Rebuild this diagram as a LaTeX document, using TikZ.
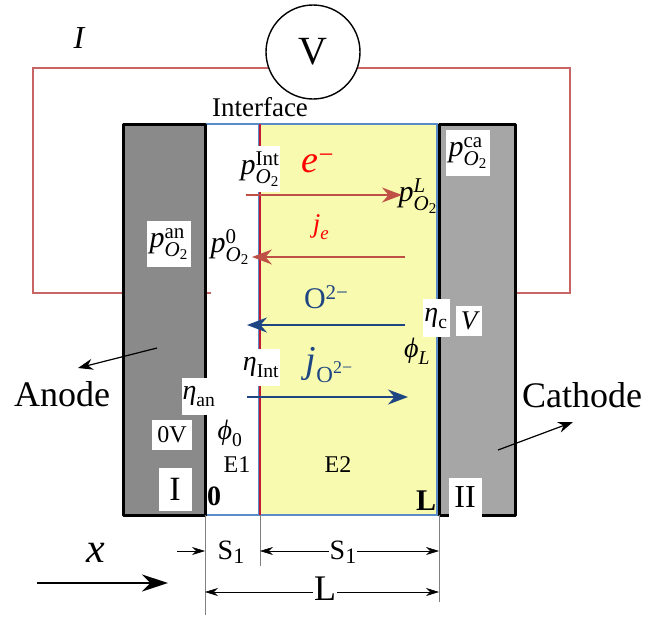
\documentclass[tikz,border=0pt]{standalone}
\usepackage{amsmath}
\usepackage{fontspec}
\setmainfont{Liberation Serif}
\usetikzlibrary{arrows.meta,positioning,calc}
\definecolor{wirered}{RGB}{200,100,100}
\definecolor{flowred}{RGB}{190,80,70}
\definecolor{flowblue}{RGB}{30,70,130}
\definecolor{edgeblue}{RGB}{90,140,200}
\definecolor{elecyellow}{RGB}{248,250,175}
\newcommand{\pres}[1]{$\textit{p}^{#1}_{\textit{O}_{\text{2}}}$}
\newcommand{\sz}[1]{\fontsize{#1}{#1}\selectfont}
\begin{document}
\begin{tikzpicture}[
    x=1pt, y=-1pt,
    >=Stealth,
    wire/.style={draw=wirered, line width=1.8pt},
    flowr/.style={draw=flowred, line width=1.5pt, arrows={-Stealth[length=20pt,width=15pt]}},
    flowb/.style={draw=flowblue, line width=1.8pt, arrows={-Stealth[length=20pt,width=15pt]}},
    dimline/.style={draw=black, line width=0.5pt, arrows={Stealth[length=13pt,width=8pt]-Stealth[length=13pt,width=8pt]}},
    dimone/.style={draw=black, line width=0.5pt, arrows={-Stealth[length=13pt,width=8pt]}},
    extline/.style={draw=gray, line width=0.8pt},
    pointer/.style={draw=black, line width=1.2pt, arrows={-Stealth[length=15pt,width=11pt]}},
    lab/.style={inner sep=1pt, font=\sz{28}},
    boxlab/.style={lab, fill=white, inner sep=1pt},
    plab/.style={boxlab, minimum width=44pt, minimum height=46pt, font=\sz{30}},
    small/.style={inner sep=1pt, font=\sz{24}},
    big/.style={inner sep=1pt, font=\sz{36}},
    region/.style={draw=black, line width=3pt, line join=round}
]
\useasboundingbox (0,0) rectangle (655,616);

\coordinate (w1) at (515,293);
\coordinate (w2) at (570,293);
\coordinate (w3) at (570,68);
\coordinate (w4) at (33,68);
\coordinate (w5) at (33,293);
\coordinate (w6) at (211,293);
\draw[wire] (w1) -- (w2) -- (w3) -- (w4) -- (w5) -- (w6);

\fill[elecyellow] (260,124) rectangle (438,515);
\draw[edgeblue, line width=1.2pt] (205,515) -- (437,515) -- (437,124) -- (205,124);
\draw[edgeblue, line width=1pt] (258.5,124) -- (258.5,515);
\draw[region, fill={rgb,255:red,138;green,138;blue,138}] (123,124) rectangle (205,515);
\draw[region, fill={rgb,255:red,166;green,166;blue,166}] (439,124) rectangle (515,515);
\draw[draw={rgb,255:red,195;green,25;blue,50}, line width=2pt] (260,124) -- (260,515);

\node[circle, draw=black, fill=white, line width=1.4pt, minimum size=94pt, inner sep=0pt, font=\sz{40}] (volt) at (313,52) {V};
\node[lab, font=\sz{32}\itshape] (cur) at (79,38) {I};
\node[lab, font=\sz{27}] (iface) at (260,107) {Interface};

\node[plab, minimum width=40pt] (pint) at (260,169) {\pres{\text{Int}}};
\node[plab] (pan) at (169,244) {\pres{\text{an}}};
\node[plab] (pca) at (468,153) {\pres{\text{ca}}};
\node[lab, font=\sz{30}] (pzero) at (230,247) {\pres{\text{0}}};
\node[lab, font=\sz{30}] (pl) at (418,196) {\pres{\textit{L}}};

\node[lab, font=\sz{38}, text=red] (eminus) at (318,163) {$\textit{e}^{\text{−}}$};
\node[lab, font=\sz{27}, text=red] (je) at (321,227) {$\textit{j}_{\textit{e}}$};
\node[lab, font=\sz{30}, text=flowblue] (oion) at (326,297) {O\raisebox{9pt}{\sz{21}2−}};
\node[lab, font=\sz{38}, text=flowblue] (jo) at (329,365) {$\textit{j}$\raisebox{-10pt}{\sz{23}O\raisebox{9pt}{\sz{18}2−}}};

\node[boxlab, minimum width=27pt, minimum height=38pt] (etac) at (436,318) {$\textit{η}_{\text{c}}$};
\node[boxlab, minimum width=26pt, minimum height=30pt, font=\sz{27}\itshape] (vca) at (469,321) {V};
\node[lab] (phil) at (417,351) {$\textit{ϕ}_{\textit{L}}$};
\node[boxlab, minimum width=34pt, minimum height=37pt] (etaint) at (261,367) {$\textit{η}_{\text{Int}}$};
\node[boxlab, minimum width=33pt, minimum height=37pt] (etaan) at (199,396) {$\textit{η}_{\text{an}}$};
\node[lab] (phizero) at (230,433) {$\textit{ϕ}_{\text{0}}$};

\node[boxlab, small, minimum width=40pt, minimum height=30pt] (zerov) at (172,435) {0V};
\node[lab, small] (eone) at (237,465) {E1};
\node[lab, small] (etwo) at (338,465) {E2};
\node[boxlab, font=\sz{34}, minimum width=33pt, minimum height=43pt] (regi) at (175,489) {I};
\node[lab, font=\sz{28}\bfseries] (zero) at (214,496) {0};
\node[lab, font=\sz{30}\bfseries] (ell) at (426,501) {L};
\node[boxlab, font=\sz{32}, minimum width=33pt, minimum height=39pt] (regii) at (465,497) {II};

\node[big] (anode) at (62,394) {Anode};
\node[big] (cathode) at (582,395) {Cathode};

\coordinate (e1) at (246,195);
\coordinate (e2) at (402,195);
\coordinate (j1) at (405,257);
\coordinate (j2) at (252,257);
\coordinate (o1) at (405,325);
\coordinate (o2) at (247,325);
\coordinate (q1) at (247,397);
\coordinate (q2) at (408,397);
\draw[flowr] (e1) -- (e2);
\draw[flowr] (j1) -- (j2);
\draw[flowb] (o1) -- (o2);
\draw[flowb] (q1) -- (q2);

\coordinate (an1) at (157,348);
\coordinate (an2) at (78,368);
\coordinate (ca1) at (498,450);
\coordinate (ca2) at (573,422);
\draw[pointer] (an1) -- (an2);
\draw[pointer] (ca1) -- (ca2);

\coordinate (x0a) at (205,515);
\coordinate (x0b) at (205,615);
\coordinate (x1a) at (260,515);
\coordinate (x1b) at (260,566);
\coordinate (x2a) at (439,515);
\coordinate (x2b) at (439,602);
\draw[extline] (x0a) -- (x0b);
\draw[extline] (x1a) -- (x1b);
\draw[extline] (x2a) -- (x2b);

\coordinate (d0) at (177,551);
\coordinate (d1) at (205,551);
\coordinate (d2) at (260,551);
\coordinate (d3) at (439,551);
\coordinate (d4) at (205,592);
\coordinate (d5) at (439,592);
\draw[dimone] (d0) -- (d1);
\draw[dimline] (d2) -- (d3);
\draw[dimline] (d4) -- (d5);
\node[lab] (sone) at (231,552) {S\raisebox{-4pt}{\sz{22}1}};
\node[lab, fill=white] (stwo) at (343,552) {S\raisebox{-4pt}{\sz{22}1}};
\node[lab, font=\sz{36}, fill=white, inner sep=1pt] (len) at (325,589) {L};

\node[lab, font=\sz{42}\itshape] (xlab) at (96,553) {x};
\coordinate (xa) at (37,583);
\coordinate (xb) at (168,583);
\draw[draw=black, line width=2.4pt, arrows={-Stealth[length=26pt,width=17pt]}] (xa) -- (xb);
\end{tikzpicture}
\end{document}
